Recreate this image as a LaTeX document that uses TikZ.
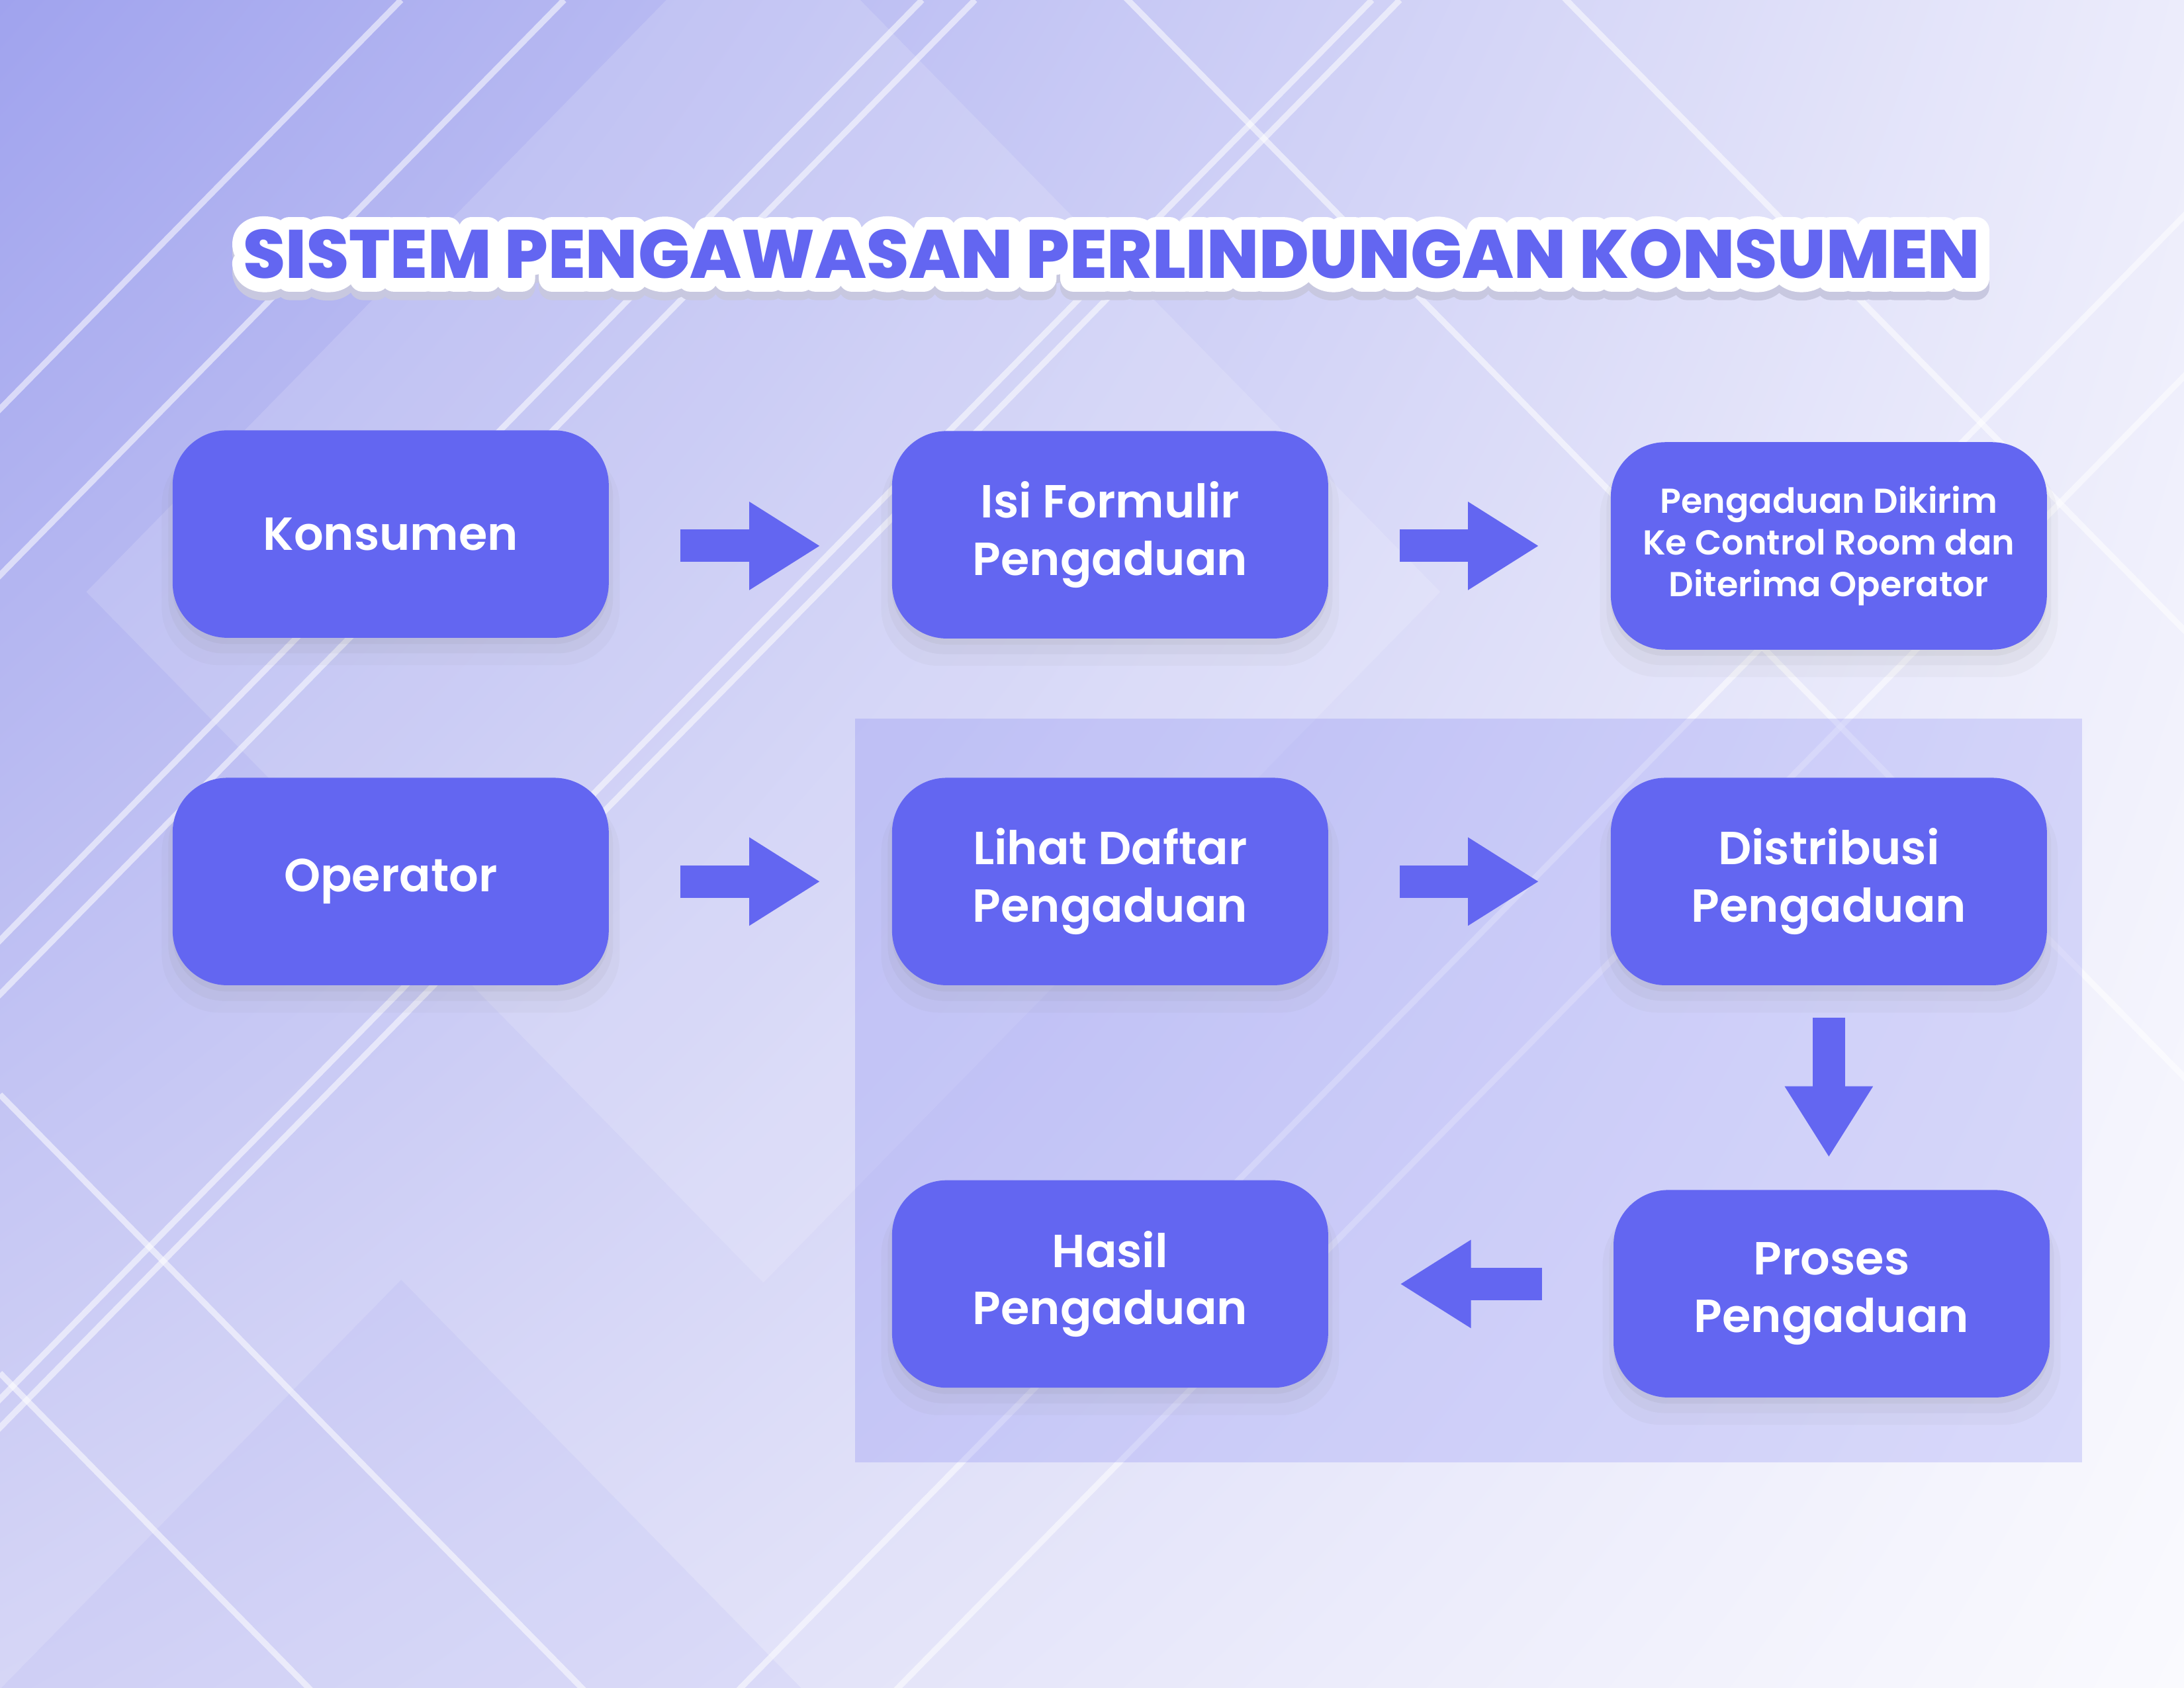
\documentclass[tikz,border=0pt]{standalone}
\usepackage{fontspec}
\setmainfont{Poppins}
\newfontfamily\boxfont{Poppins SemiBold}
\newfontfamily\titlefont{Poppins ExtraBold}
\usepackage{tikz}
\usetikzlibrary{arrows.meta, shadows, shadings}
\definecolor{boxblue}{HTML}{6366F1}
\definecolor{bgtl}{RGB}{160,163,238}
\definecolor{bgtr}{RGB}{236,236,251}
\definecolor{bgbl}{RGB}{214,214,246}
\definecolor{bgbr}{RGB}{250,250,254}
\definecolor{shadowgray}{RGB}{200,200,224}
% stroked text: width (bp), stroke rgb, text
\newcommand\outlinetext[3]{\special{pdf:code q 2 Tr #1 w 1 j 1 J #2 RG}#3\special{pdf:code Q}}
\tikzstyle{box} = [rectangle, rounded corners=0.7cm, minimum width=5.58cm, minimum height=2.655cm, align=center, fill=boxblue, text=white, font=\boxfont\fontsize{16.9}{20.8}\selectfont,
  drop shadow={shadow xshift=0pt, shadow yshift=-0.08cm, opacity=0.09},
  drop shadow={shadow xshift=0pt, shadow yshift=-0.17cm, shadow scale=1.02, opacity=0.07},
  drop shadow={shadow xshift=0pt, shadow yshift=-0.27cm, shadow scale=1.05, opacity=0.05}]
\tikzstyle{arrow} = [draw=boxblue, line width=0.415cm, -{Triangle[length=0.91cm, width=1.064cm]}, shorten <=0.91cm, shorten >=0.91cm]
\tikzstyle{bgline} = [white, opacity=0.55, line width=2.2pt]
\tikzstyle{titletext} = [anchor=base, inner sep=0pt, text=boxblue, font=\titlefont\fontsize{24.9}{30}\selectfont]

\begin{document}
\begin{tikzpicture}[x=0.017819cm, y=-0.017819cm]
\useasboundingbox (0,0) rectangle (1568,1212);

% background
\begin{scope}
\clip (0,0) rectangle (1568,1212);
\shade[upper left=bgtl, upper right=bgtr, lower left=bgbl, lower right=bgbr] (0,0) rectangle (1568,1212);
\fill[white, opacity=0.15] (548,921) -- (62,425) -- (548,-71) -- (1034,425) -- cycle;
\fill[boxblue, opacity=0.06] (288,919) -- (575,1212) -- (1,1212) -- cycle;
\foreach \t in {288,405,662,700,985,1005,1720,1833}
  \draw[bgline] (\t,0) -- ({\t-1300},1326);
\foreach \s in {-1147,-826,786,986}
  \draw[bgline] (0,\s) -- (1700,{\s+1734});
\end{scope}

\fill[boxblue, opacity=0.2] (614,516) rectangle (1495,1050);

% title
\node(titleshadow)[titletext, text=shadowgray] at (798,206) {\outlinetext{9.6}{0.784 0.784 0.878}{SISTEM PENGAWASAN PERLINDUNGAN KONSUMEN}};
\node(titleoutline)[titletext, text=white] at (798,200) {\outlinetext{9.6}{1 1 1}{SISTEM PENGAWASAN PERLINDUNGAN KONSUMEN}};
\node(title)[titletext] at (798,200) {SISTEM PENGAWASAN PERLINDUNGAN KONSUMEN};

\node(konsumen)[box] at (280.5,383.5) {Konsumen};
\node(formulir)[box] at (797,384) {Isi Formulir\\Pengaduan};
\node(dikirim)[box,font=\boxfont\fontsize{12.6}{15.2}\selectfont] at (1313,392) {Pengaduan Dikirim\\Ke Control Room dan\\Diterima Operator};
\node(operator)[box] at (280.5,633) {Operator};
\node(daftar)[box] at (797,633) {Lihat Daftar\\Pengaduan};
\node(distribusi)[box] at (1313,633) {Distribusi\\Pengaduan};
\node(hasil)[box] at (797,922) {Hasil\\Pengaduan};
\node(proses)[box] at (1315,929) {Proses\\Pengaduan};

\draw [arrow] (konsumen.east |- dikirim) -- (formulir.west |- dikirim);
\draw [arrow] (formulir.east |- dikirim) -- (dikirim.west);
\draw [arrow] (operator) -- (daftar);
\draw [arrow] (daftar) -- (distribusi);
\draw [arrow,shorten <=0.41cm,shorten >=0.41cm] (distribusi.south) -- (distribusi.south |- proses.north);
\draw [arrow] (proses.west |- hasil) -- (hasil.east);
\end{tikzpicture}
\end{document}
